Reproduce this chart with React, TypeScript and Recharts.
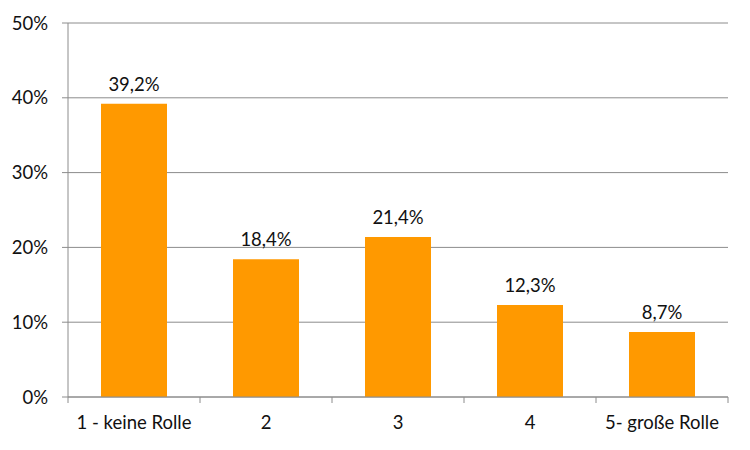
import { BarChart, Bar, XAxis, YAxis, CartesianGrid, LabelList } from 'recharts';

const categories = ['1 - keine Rolle', '2', '3', '4', '5- große Rolle'];
const shares = [39.2, 18.4, 21.4, 12.3, 8.7];
const yTicks = [0, 10, 20, 30, 40, 50];

const data = categories.map((name, i) => ({ name, value: shares[i] }));

const FONT = 'Lato, "Liberation Sans", sans-serif';
const AXIS = '#8c8c8c';
const SIZE = 18.5;

function CategoryTick(props: any) {
  const { x, y, payload, index, visibleTicksCount } = props;
  const band = 132;
  const isLast = index === (visibleTicksCount ?? categories.length) - 1;
  return (
    <g>
      <line x1={x - band / 2} x2={x - band / 2} y1={y - 8} y2={y - 2} stroke={AXIS} />
      {isLast && <line x1={x + band / 2} x2={x + band / 2} y1={y - 8} y2={y - 2} stroke={AXIS} />}
      <text x={x} y={y + 24} textAnchor="middle" fill="#111" fontSize={SIZE} fontFamily={FONT}>
        {payload.value}
      </text>
    </g>
  );
}

export default function App() {
  return (
    <div style={{ position: 'absolute', left: 0, top: 0, background: '#fff' }}>
      <BarChart
        width={750}
        height={450}
        data={data}
        margin={{ top: 23, right: 22, left: 0, bottom: 0 }}
        barCategoryGap="25%"
      >
        <CartesianGrid vertical={false} stroke={AXIS} />
        <XAxis
          dataKey="name"
          height={53}
          axisLine={{ stroke: AXIS }}
          tickLine={false}
          tick={<CategoryTick />}
          interval={0}
        />
        <YAxis
          domain={[0, 50]}
          ticks={yTicks}
          width={68}
          axisLine={{ stroke: AXIS }}
          tickLine={{ stroke: AXIS }}
          tickSize={6}
          tickMargin={14}
          tickFormatter={(v: number) => `${v}%`}
          tick={{ fill: '#111', fontSize: SIZE, fontFamily: FONT }}
        />
        <Bar dataKey="value" fill="#ff9900" isAnimationActive={false}>
          <LabelList
            dataKey="value"
            position="top"
            offset={13}
            formatter={(v: number) => `${String(v).replace('.', ',')}%`}
            style={{ fill: '#111', fontSize: SIZE, fontFamily: FONT }}
          />
        </Bar>
      </BarChart>
    </div>
  );
}
